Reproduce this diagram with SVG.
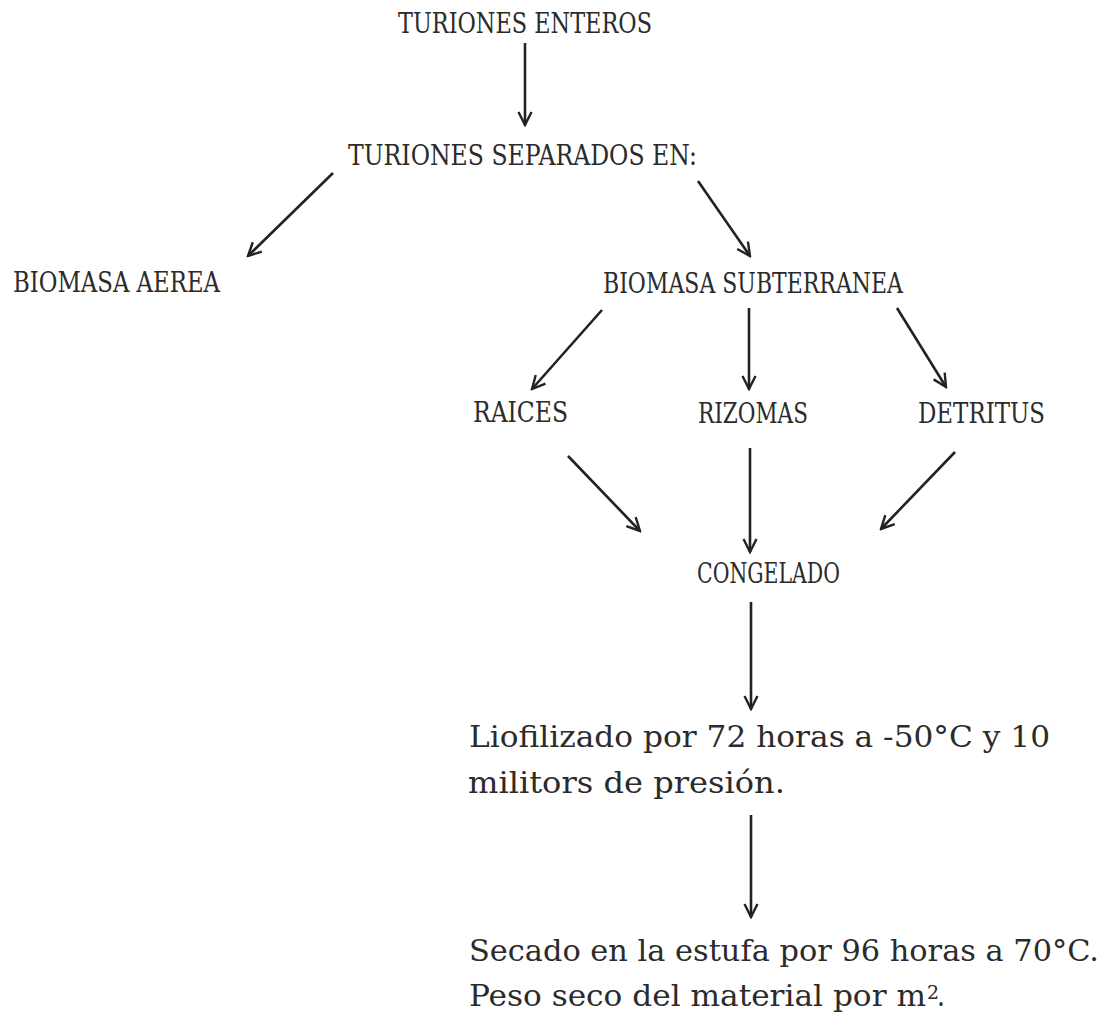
<svg xmlns="http://www.w3.org/2000/svg" width="1109" height="1012" viewBox="0 0 1109 1012">
  <style>
    .h { font-family: "DejaVu Serif", "Liberation Serif", serif; font-size: 27px; fill: #2b2b2b; }
    .b { font-family: "DejaVu Serif", "Liberation Serif", serif; font-size: 30px; fill: #2b2b2b; }
    .c { stroke: #222; stroke-width: 2.6; fill: none; marker-end: url(#ah); }
  </style>
  <defs>
    <marker id="ah" viewBox="0 0 18 18" refX="16" refY="9" markerWidth="18" markerHeight="18" markerUnits="userSpaceOnUse" orient="auto">
      <path d="M3,2.5 L16,9 L3,15.5" fill="none" stroke="#222" stroke-width="2.4" stroke-linejoin="miter"/>
    </marker>
  </defs>
  <rect x="0" y="0" width="1109" height="1012" fill="#ffffff"/>

  <g id="connectors">
    <line class="c" x1="525" y1="43" x2="525" y2="125"/>
    <line class="c" x1="333" y1="173" x2="248" y2="256"/>
    <line class="c" x1="698" y1="181" x2="750" y2="256"/>
    <line class="c" x1="602" y1="310" x2="532" y2="389"/>
    <line class="c" x1="749" y1="308" x2="749" y2="389"/>
    <line class="c" x1="897" y1="308" x2="946" y2="387"/>
    <line class="c" x1="568" y1="456" x2="640" y2="531"/>
    <line class="c" x1="750" y1="448" x2="750" y2="552"/>
    <line class="c" x1="955" y1="452" x2="881" y2="529"/>
    <line class="c" x1="751" y1="602" x2="751" y2="709"/>
    <line class="c" x1="751" y1="815" x2="751" y2="917"/>
  </g>

  <g id="turiones-enteros">
    <text class="h" x="398" y="33" textLength="254" lengthAdjust="spacingAndGlyphs">TURIONES ENTEROS</text>
  </g>
  <g id="turiones-separados">
    <text class="h" x="348" y="165" textLength="349" lengthAdjust="spacingAndGlyphs">TURIONES SEPARADOS EN:</text>
  </g>
  <g id="biomasa-aerea">
    <text class="h" x="13" y="292" textLength="207" lengthAdjust="spacingAndGlyphs">BIOMASA AEREA</text>
  </g>
  <g id="biomasa-subterranea">
    <text class="h" x="603" y="293" textLength="300" lengthAdjust="spacingAndGlyphs">BIOMASA SUBTERRANEA</text>
  </g>
  <g id="raices">
    <text class="h" x="473" y="422" textLength="95" lengthAdjust="spacingAndGlyphs">RAICES</text>
  </g>
  <g id="rizomas">
    <text class="h" x="698" y="423" textLength="110" lengthAdjust="spacingAndGlyphs">RIZOMAS</text>
  </g>
  <g id="detritus">
    <text class="h" x="918" y="423" textLength="127" lengthAdjust="spacingAndGlyphs">DETRITUS</text>
  </g>
  <g id="congelado">
    <text class="h" x="697" y="583" textLength="143" lengthAdjust="spacingAndGlyphs">CONGELADO</text>
  </g>
  <g id="liofilizado">
    <text class="b" x="469" y="747" textLength="581" lengthAdjust="spacingAndGlyphs">Liofilizado por 72 horas a -50°C y 10</text>
    <text class="b" x="468" y="793" textLength="317" lengthAdjust="spacingAndGlyphs">militors de presión.</text>
  </g>
  <g id="secado">
    <text class="b" x="469" y="961" textLength="630" lengthAdjust="spacingAndGlyphs">Secado en la estufa por 96 horas a 70°C.</text>
    <text class="b" x="469" y="1006" textLength="457" lengthAdjust="spacingAndGlyphs">Peso seco del material por m</text>
    <text class="b" x="927" y="999" style="font-size:19px">2</text>
    <text class="b" x="937" y="1006" textLength="8" lengthAdjust="spacingAndGlyphs">.</text>
  </g>
</svg>
